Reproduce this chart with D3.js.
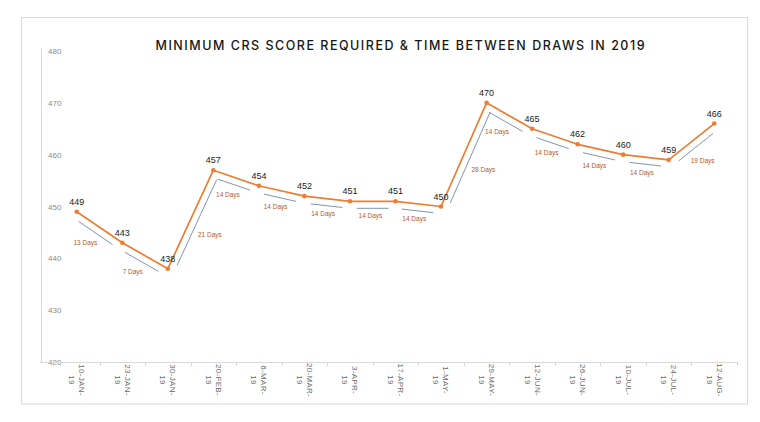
<!DOCTYPE html>
<html>
<head>
<meta charset="utf-8">
<script src="https://cdn.jsdelivr.net/npm/d3@7"></script>
<style>
  html, body { margin: 0; padding: 0; background: #fff; }
  svg { display: block; }
</style>
</head>
<body>
<script>
// ---- data ----
const title = "MINIMUM CRS SCORE REQUIRED & TIME BETWEEN DRAWS IN 2019";
const drawDates = ["10-JAN-19","23-JAN-19","30-JAN-19","20-FEB-19","6-MAR-19","20-MAR-19","3-APR-19",
                   "17-APR-19","1-MAY-19","29-MAY-19","12-JUN-19","26-JUN-19","10-JUL-19","24-JUL-19","12-AUG-19"];
const minScores = [449,443,438,457,454,452,451,451,450,470,465,462,460,459,466];
const daysBetween = [13,7,21,14,14,14,14,14,28,14,14,14,14,19];
const yTicks = [420,430,440,450,460,470,480];
const yDomain = [420,480];

// ---- layout ----
const W = 760, H = 422;
const svg = d3.select("body").append("svg").attr("width", W).attr("height", H);

const orange = "#ed7d31", gray = "#8196b0", dayColor = "#b65a2e", axisColor = "#d9d9d9";

// outer frame
svg.append("rect").attr("x", 21.5).attr("y", 17.5).attr("width", 726).attr("height", 386.5)
  .attr("fill", "none").attr("stroke", axisColor).attr("stroke-width", 1);

// title
svg.append("text").attr("x", 400).attr("y", 50).attr("text-anchor", "middle")
  .attr("font-family", "Inter, 'Noto Sans', sans-serif").attr("font-size", 12.5).attr("font-weight", 500)
  .attr("fill", "#161616").attr("textLength", 489).attr("lengthAdjust", "spacing")
  .text(title);

const x = d3.scaleBand().domain(drawDates).range([54, 737]).paddingInner(0).paddingOuter(0);
const y = d3.scaleLinear().domain(yDomain).range([362, 51]);
const cx = d => x(d) + x.bandwidth() / 2;

// y axis line
svg.append("line").attr("x1", 41.5).attr("x2", 41.5).attr("y1", 48).attr("y2", 362)
  .attr("stroke", axisColor);
// y tick labels (inside, right of axis line)
const yAxis = d3.axisRight(y).tickValues(yTicks).tickSize(0).tickPadding(0).tickFormat(d3.format("d"));
const gy = svg.append("g").attr("transform", "translate(48,0)").call(yAxis);
gy.select(".domain").remove();
gy.selectAll("text").attr("font-family", "'Liberation Sans', Arial, sans-serif").attr("font-size", 8)
  .attr("fill", "#8a8a8a").attr("dy", "0.32em").attr("x", 0);

// x axis line + ticks at band edges
svg.append("line").attr("x1", 40).attr("x2", 737).attr("y1", 362.5).attr("y2", 362.5).attr("stroke", axisColor);
const edges = drawDates.map(d => x(d)).concat([x(drawDates[drawDates.length - 1]) + x.bandwidth()]);
svg.append("g").selectAll("line").data(edges).join("line")
  .attr("x1", d => Math.round(d) + 0.5).attr("x2", d => Math.round(d) + 0.5)
  .attr("y1", 362).attr("y2", 366).attr("stroke", axisColor);

// x tick labels rotated 90deg, wrapped after last hyphen
const xl = svg.append("g").selectAll("text").data(drawDates).join("text")
  .attr("transform", d => `translate(${cx(d) + 5},380) rotate(90)`)
  .attr("text-anchor", "middle")
  .attr("font-family", "'Liberation Sans', Arial, sans-serif").attr("font-size", 8)
  .attr("letter-spacing", 0.3)
  .attr("fill", "#6b6b6b");
xl.each(function(d) {
  const i = d.lastIndexOf("-");
  const t = d3.select(this);
  t.append("tspan").attr("x", 0).attr("y", 0).attr("dy", "0.32em").text(d.slice(0, i + 1));
  t.append("tspan").attr("x", 0).attr("y", 10).attr("dy", "0.32em").text(d.slice(i + 1));
});

// points
const pts = drawDates.map((d, i) => ({ x: cx(d), y: y(minScores[i]), v: minScores[i] }));

// gray offset lines and day labels per segment
const segs = daysBetween.map((days, i) => ({ a: pts[i], b: pts[i + 1], days }));
segs.forEach(s => {
  const dx = s.b.x - s.a.x, dy = s.b.y - s.a.y, L = Math.hypot(dx, dy);
  const ux = dx / L, uy = dy / L;
  let px = -uy, py = ux;
  if (py < 0 || (Math.abs(py) < 1e-6 && px < 0)) { px = -px; py = -py; }
  if (uy < 0) { px = Math.abs(px); py = Math.abs(py); }
  s.ux = ux; s.uy = uy; s.px = px; s.py = py; s.L = L;
});

const off = 7, trim = 7;
svg.append("g").selectAll("line").data(segs).join("line")
  .attr("x1", s => s.a.x + s.px * off + s.ux * trim)
  .attr("y1", s => s.a.y + s.py * off + s.uy * trim)
  .attr("x2", s => s.b.x + s.px * off - s.ux * trim)
  .attr("y2", s => s.b.y + s.py * off - s.uy * trim)
  .attr("stroke", gray).attr("stroke-width", 1);

const labelPos = s => {
  const t = 0.45, d = 9 + Math.abs(s.px) * 14 + Math.abs(s.py) * 5;
  return [s.a.x + (s.b.x - s.a.x) * t + s.px * d, s.a.y + (s.b.y - s.a.y) * t + s.py * d];
};
svg.append("g").selectAll("text").data(segs).join("text")
  .attr("x", s => labelPos(s)[0])
  .attr("y", s => labelPos(s)[1])
  .attr("dy", "0.35em").attr("text-anchor", "middle")
  .attr("font-family", "'Liberation Sans', Arial, sans-serif").attr("font-size", 6.5)
  .attr("fill", dayColor)
  .text(s => s.days + " Days");

// orange line
const line = d3.line().x(d => d.x).y(d => d.y);
svg.append("path").datum(pts).attr("d", line).attr("fill", "none")
  .attr("stroke", orange).attr("stroke-width", 1.7).attr("stroke-linejoin", "round");

svg.append("g").selectAll("circle").data(pts).join("circle")
  .attr("cx", d => d.x).attr("cy", d => d.y).attr("r", 2.3).attr("fill", orange);

// value labels
svg.append("g").selectAll("text").data(pts).join("text")
  .attr("x", d => d.x).attr("y", d => d.y - 7).attr("text-anchor", "middle")
  .attr("font-family", "'Liberation Sans', Arial, sans-serif").attr("font-size", 9)
  .attr("fill", "#222")
  .text(d => d.v);
</script>
</body>
</html>
